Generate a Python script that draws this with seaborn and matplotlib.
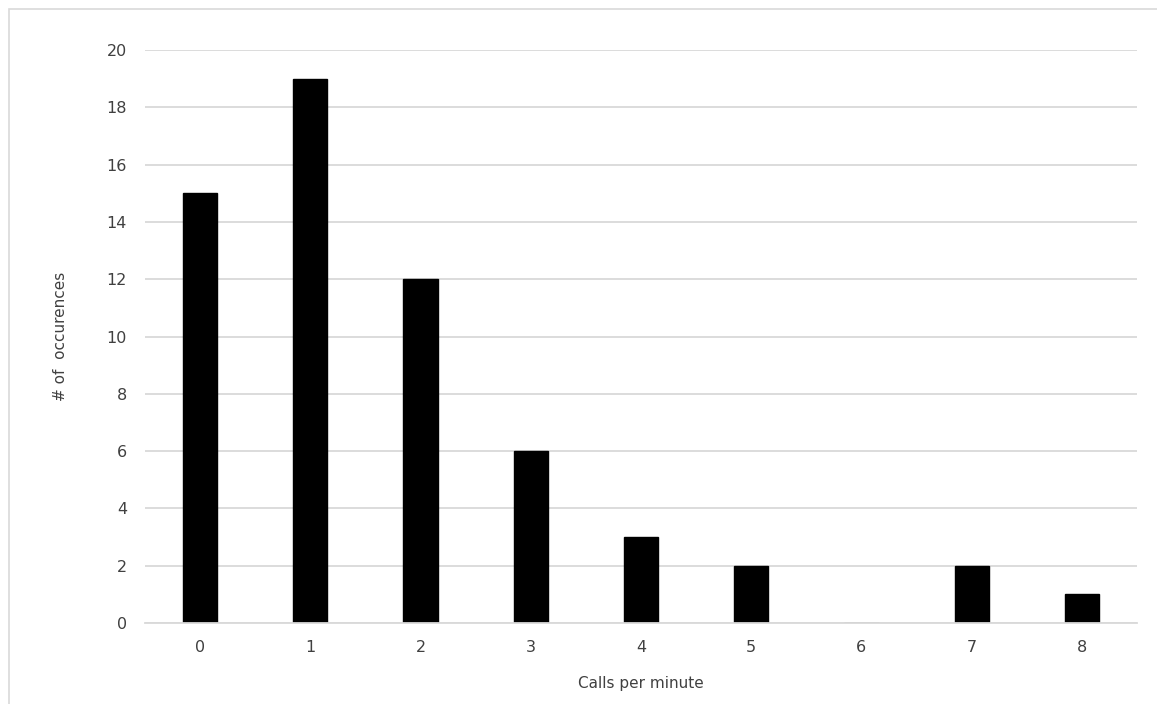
import matplotlib
matplotlib.use("Agg")
import matplotlib.pyplot as plt
import seaborn as sns
import pandas as pd
from matplotlib.patches import Rectangle

categories = ["0", "1", "2", "3", "4", "5", "6", "7", "8"]
occurrences = [15, 19, 12, 6, 3, 2, 0, 2, 1]
y_ticks = [0, 2, 4, 6, 8, 10, 12, 14, 16, 18, 20]

sns.set_theme(style="white")
plt.rcParams['font.family'] = ['DejaVu Sans']

df = pd.DataFrame({"calls": categories, "count": occurrences})

fig = plt.figure(figsize=(11.57, 7.04), dpi=100)
ax = fig.add_axes([0.1253, 0.115, 0.8574, 0.814])

sns.barplot(data=df, x="calls", y="count", color="black", width=0.31,
            saturation=1, ax=ax, zorder=3, edgecolor="black")

ax.set_xlim(-0.5, 8.5)
ax.set_ylim(0, 20)
ax.set_yticks(y_ticks)
ax.yaxis.grid(True, color="#d9d9d9", linewidth=1.3, zorder=0)
ax.set_axisbelow(True)
for s in ["top", "right", "left"]:
    ax.spines[s].set_visible(False)
ax.spines["bottom"].set_color("#d9d9d9")
ax.spines["bottom"].set_linewidth(1.3)
ax.spines["bottom"].set_zorder(4)
ax.tick_params(axis="both", length=0, labelsize=11.5, colors="#404040")
ax.tick_params(axis="y", pad=13)
ax.tick_params(axis="x", pad=12)

ax.set_xlabel("Calls per minute", fontsize=11, color="#404040", labelpad=15)
ax.set_ylabel("# of  occurences", fontsize=11, color="#404040", labelpad=28)

fig.patches.append(Rectangle((9 / 1157, -0.1), 1.2, 1 - 9 / 704 + 0.1,
                             transform=fig.transFigure, fill=False,
                             edgecolor="#d9d9d9", linewidth=1.2))

fig.savefig("out.png", dpi=100)
